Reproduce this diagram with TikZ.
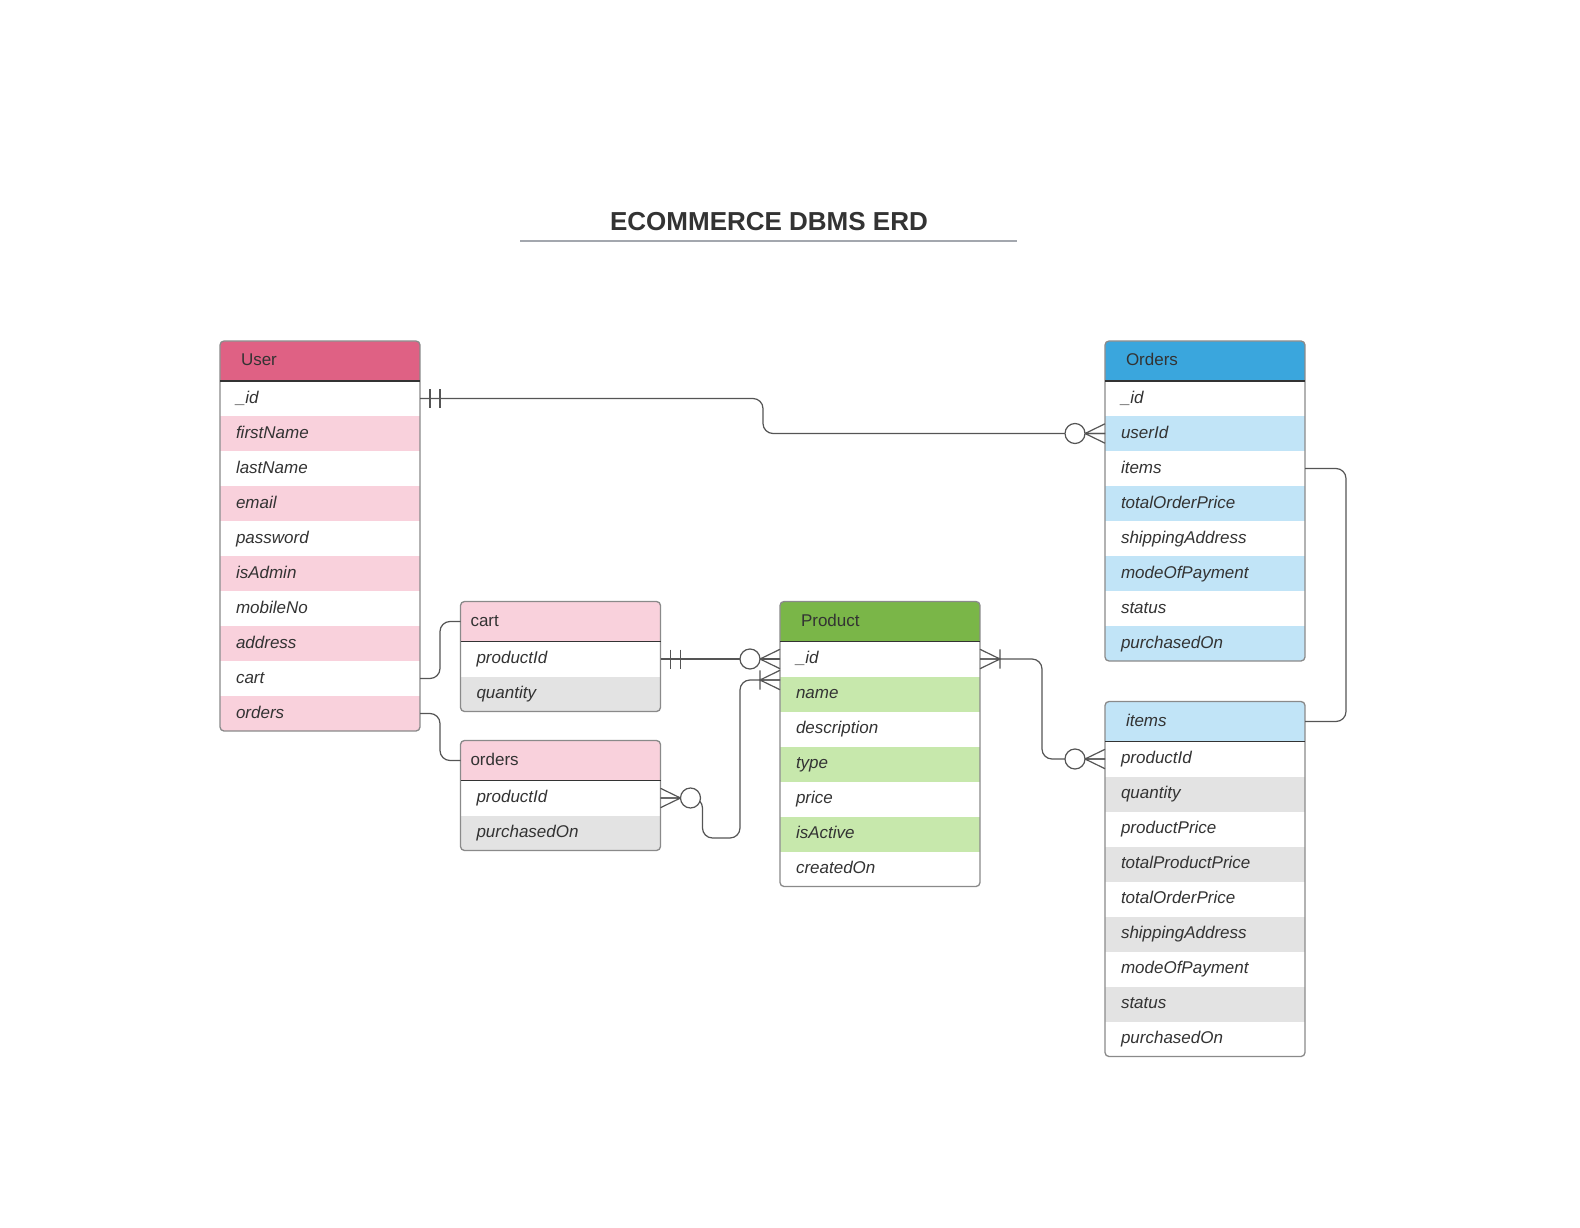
\documentclass[tikz,border=0pt]{standalone}
\usepackage{fontspec}
\setmainfont{Liberation Sans}
\usetikzlibrary{positioning, calc}

\definecolor{textgray}{HTML}{333333}
\definecolor{linegray}{HTML}{555555}
\definecolor{boxgray}{HTML}{8A8A8A}
\definecolor{rulegray}{HTML}{A3A7AE}
\definecolor{userhead}{HTML}{DF6184}
\definecolor{pinkrow}{HTML}{F9D1DC}
\definecolor{ordhead}{HTML}{3AA6DD}
\definecolor{bluerow}{HTML}{C1E4F7}
\definecolor{prodhead}{HTML}{7AB648}
\definecolor{greenrow}{HTML}{C7E8AC}
\definecolor{grayrow}{HTML}{E3E3E3}

\tikzset{
    head/.style={anchor=north west, minimum height=40pt, text width=158pt, inner xsep=21pt,
        inner ysep=0pt, outer sep=0pt, text height=13pt, text depth=4pt, align=left,
        font=\fontsize{17}{20}\selectfont, text=textgray},
    subhead/.style={head, text width=180pt, inner xsep=10pt},
    field/.style={minimum height=35pt, text width=168pt, inner xsep=16pt, inner ysep=0pt,
        outer sep=0pt, text height=13pt, text depth=4pt, align=left,
        font=\itshape\fontsize{17}{20}\selectfont, text=textgray},
    boxline/.style={draw=boxgray, line width=1.3pt},
    sepline/.style={draw=textgray, line width=1.1pt},
    conn/.style={draw=linegray, line width=1.2pt, rounded corners=10pt},
    markline/.style={draw=linegray, line width=1.2pt},
    twobar/.pic={\draw[markline] (10,-9.5) -- (10,9.5) (20,-9.5) -- (20,9.5);},
    zeromany/.pic={\draw[markline] (0,-9.7) -- (20,0) -- (0,9.7) (0,0) -- (20,0);
        \draw[markline, fill=white] (30,0) circle[radius=10pt];},
    onemany/.pic={\draw[markline] (0,-9.7) -- (20,0) -- (0,9.7) (0,0) -- (20,0) (20,-9.7) -- (20,9.7);},
}

\begin{document}
\begin{tikzpicture}[x=1pt, y=-1pt]
    \useasboundingbox (0,0) rectangle (1580,1228);

    \node[font=\bfseries\fontsize{26}{30}\selectfont, text=textgray] (title) at (769,222) {ECOMMERCE DBMS ERD};
    \draw[draw=rulegray, line width=2pt] (520,241) -- (1017,241);

    % User
    \node[head, fill=userhead] (U0) at (220,341) {User};
    \node[field, fill=white, below=0 of U0] (U1) {\_id};
    \node[field, fill=pinkrow, below=0 of U1] (U2) {firstName};
    \node[field, fill=white, below=0 of U2] (U3) {lastName};
    \node[field, fill=pinkrow, below=0 of U3] (U4) {email};
    \node[field, fill=white, below=0 of U4] (U5) {password};
    \node[field, fill=pinkrow, below=0 of U5] (U6) {isAdmin};
    \node[field, fill=white, below=0 of U6] (U7) {mobileNo};
    \node[field, fill=pinkrow, below=0 of U7] (U8) {address};
    \node[field, fill=white, below=0 of U8] (U9) {cart};
    \node[field, fill=pinkrow, below=0 of U9] (U10) {orders};

    % Orders
    \node[head, fill=ordhead] (O0) at (1105,341) {Orders};
    \node[field, fill=white, below=0 of O0] (O1) {\_id};
    \node[field, fill=bluerow, below=0 of O1] (O2) {userId};
    \node[field, fill=white, below=0 of O2] (O3) {items};
    \node[field, fill=bluerow, below=0 of O3] (O4) {totalOrderPrice};
    \node[field, fill=white, below=0 of O4] (O5) {shippingAddress};
    \node[field, fill=bluerow, below=0 of O5] (O6) {modeOfPayment};
    \node[field, fill=white, below=0 of O6] (O7) {status};
    \node[field, fill=bluerow, below=0 of O7] (O8) {purchasedOn};

    % cart
    \node[subhead, fill=pinkrow] (C0) at (460.5,601.5) {cart};
    \node[field, fill=white, below=0 of C0] (C1) {productId};
    \node[field, fill=grayrow, below=0 of C1] (C2) {quantity};

    % orders (in User)
    \node[subhead, fill=pinkrow] (R0) at (460.5,740.5) {orders};
    \node[field, fill=white, below=0 of R0] (R1) {productId};
    \node[field, fill=grayrow, below=0 of R1] (R2) {purchasedOn};

    % Product
    \node[head, fill=prodhead] (P0) at (780,601.5) {Product};
    \node[field, fill=white, below=0 of P0] (P1) {\_id};
    \node[field, fill=greenrow, below=0 of P1] (P2) {name};
    \node[field, fill=white, below=0 of P2] (P3) {description};
    \node[field, fill=greenrow, below=0 of P3] (P4) {type};
    \node[field, fill=white, below=0 of P4] (P5) {price};
    \node[field, fill=greenrow, below=0 of P5] (P6) {isActive};
    \node[field, fill=white, below=0 of P6] (P7) {createdOn};

    % items
    \node[head, fill=bluerow, font=\itshape\fontsize{17}{20}\selectfont] (I0) at (1105,701.5) {items};
    \node[field, fill=white, below=0 of I0] (I1) {productId};
    \node[field, fill=grayrow, below=0 of I1] (I2) {quantity};
    \node[field, fill=white, below=0 of I2] (I3) {productPrice};
    \node[field, fill=grayrow, below=0 of I3] (I4) {totalProductPrice};
    \node[field, fill=white, below=0 of I4] (I5) {totalOrderPrice};
    \node[field, fill=grayrow, below=0 of I5] (I6) {shippingAddress};
    \node[field, fill=white, below=0 of I6] (I7) {modeOfPayment};
    \node[field, fill=grayrow, below=0 of I7] (I8) {status};
    \node[field, fill=white, below=0 of I8] (I9) {purchasedOn};

    % box outlines
    \foreach \a/\b in {U0/U10, O0/O8, C0/C2, R0/R2, P0/P7, I0/I9} {
        \fill[white, even odd rule] ($(\a.north west)+(-3,-3)$) rectangle ($(\b.south east)+(3,3)$)
            [rounded corners=4pt] (\a.north west) rectangle (\b.south east);
        \draw[boxline, rounded corners=4pt] (\a.north west) rectangle (\b.south east);
        \draw[sepline] (\a.south west) -- (\a.south east);
    }

    % connectors
    \coordinate (Pn) at (780,680);
    \draw[conn] (U1.east) -- ++(343,0) |- (O2.west);
    \draw[conn] (U9.east) -- ++(20,0) |- (C0.west);
    \draw[conn] (U10.east) -- ++(20,0) |- (R0.west);
    \draw[conn] (C1.east) -- (P1.west);
    \draw[conn] (R1.east) -- ++(42,0) -- ++(0,40) -| ($(Pn)+(-40,0)$) -- (Pn);
    \draw[conn] (P1.east) -- ++(62,0) |- (I1.west);
    \draw[conn] (O3.east) -- ++(41,0) |- (I0.east);

    \path (U1.east) pic {twobar};
    \path (O2.west) pic[xscale=-1] {zeromany};
    \path (C1.east) pic {twobar};
    \path (P1.west) pic[xscale=-1] {zeromany};
    \path (R1.east) pic {zeromany};
    \path (Pn) pic[xscale=-1] {onemany};
    \path (P1.east) pic {onemany};
    \path (I1.west) pic[xscale=-1] {zeromany};
\end{tikzpicture}
\end{document}
